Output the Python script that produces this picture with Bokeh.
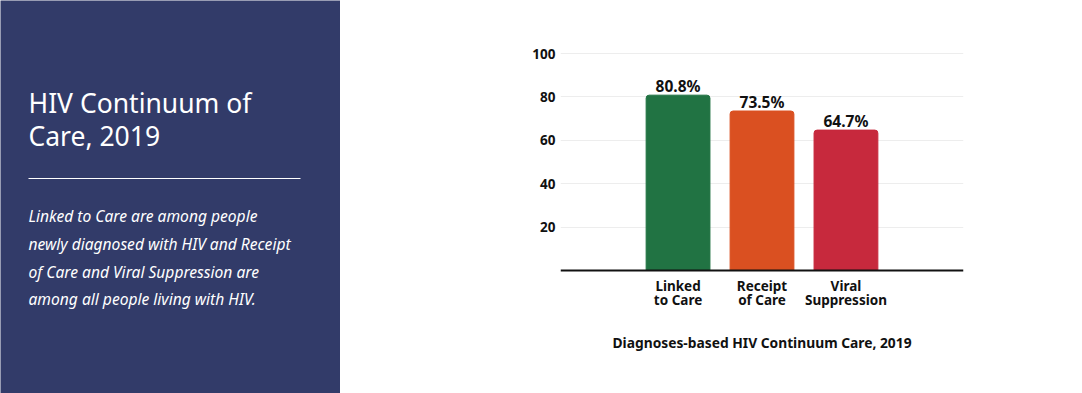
from bokeh.plotting import figure
from bokeh.layouts import row
from bokeh.models import Range1d, FactorRange, FixedTicker, ColumnDataSource
from bokeh.core.properties import value
from bokeh.embed import file_html
from bokeh.resources import INLINE

# ---- data ----
categories = ["Linked\nto Care", "Receipt\nof Care", "Viral\nSuppression"]
percentages = [80.8, 73.5, 64.7]
bar_colors = ["#217343", "#DA5021", "#C7293D"]
y_ticks = [20, 40, 60, 80, 100]
chart_caption = "Diagnoses-based HIV Continuum Care, 2019"
panel_title = ["HIV Continuum of", "Care, 2019"]
panel_text = [
    "Linked to Care are among people",
    "newly diagnosed with HIV and Receipt",
    "of Care and Viral Suppression are",
    "among all people living with HIV.",
]

FONT = "Noto Sans"
NAVY = "#323B69"
H = 393

# ---- left panel ----
left = figure(width=340, height=H, x_range=Range1d(0, 340), y_range=Range1d(H, 0),
              min_border=0, toolbar_location=None, output_backend="svg")
left.axis.visible = False
left.grid.visible = False
left.outline_line_color = None
left.background_fill_color = NAVY
left.border_fill_color = NAVY

left.text(x=[28, 28], y=[102.5, 135.5], text=panel_title, text_color="white",
          text_font=value(FONT), text_font_size="26.5px", text_baseline="middle")
left.segment(x0=[28], y0=[178], x1=[300], y1=[178], line_color="white", line_width=1)
left.text(x=[28] * 4, y=[215, 243, 271, 298.5], text=panel_text, text_color="white",
          text_font=value(FONT), text_font_style="italic", text_font_size="15.6px",
          text_baseline="middle")

# ---- chart ----
frame_top, frame_zero = 53, 270
px_per_unit = (frame_zero - frame_top) / 100
y_lo = -(H - frame_zero) / px_per_unit
y_hi = 100 + frame_top / px_per_unit

src = ColumnDataSource(dict(cat=categories, val=percentages, color=bar_colors,
                            label=[f"{v}%" for v in percentages]))
p = figure(width=742, height=H, x_range=FactorRange(*categories, range_padding=0.6),
           y_range=Range1d(y_lo, y_hi), min_border_left=220, min_border_right=119,
           min_border_top=0, min_border_bottom=0,
           toolbar_location=None, output_backend="svg")
p.outline_line_color = None
p.background_fill_color = "white"
p.border_fill_color = "white"
p.xgrid.grid_line_color = None
p.ygrid.grid_line_color = "#ededed"
p.ygrid.ticker = FixedTicker(ticks=y_ticks)

p.vbar(x="cat", top="val", bottom=0, width=0.76, color="color", source=src,
       border_radius=(3, 3, 0, 0))
p.text(x="cat", y="val", text="label", source=src, y_offset=-9,
       text_align="center", text_baseline="middle", text_color="#111111",
       text_font=value(FONT), text_font_style="bold", text_font_size="15.5px")

p.yaxis.ticker = FixedTicker(ticks=y_ticks)
p.yaxis.axis_line_color = None
p.yaxis.major_tick_line_color = None
p.yaxis.major_tick_out = 0
p.yaxis.major_tick_in = 0
p.yaxis.minor_tick_line_color = None
p.yaxis.major_label_standoff = 5
p.yaxis.major_label_text_font = FONT
p.yaxis.major_label_text_font_style = "bold"
p.yaxis.major_label_text_font_size = "13.5px"
p.yaxis.major_label_text_color = "#111111"

p.xaxis.fixed_location = 0
p.xaxis.axis_line_color = "#111111"
p.xaxis.axis_line_width = 2
p.xaxis.major_tick_line_color = None
p.xaxis.major_tick_out = 0
p.xaxis.major_tick_in = 0
p.xaxis.major_label_standoff = 6
p.xaxis.major_label_text_font = FONT
p.xaxis.major_label_text_font_style = "bold"
p.xaxis.major_label_text_font_size = "13.5px"
p.xaxis.major_label_text_line_height = 0.78
p.xaxis.major_label_text_color = "#111111"
p.xaxis.axis_label = chart_caption
p.xaxis.axis_label_standoff = 21
p.xaxis.axis_label_text_font = FONT
p.xaxis.axis_label_text_font_style = "bold"
p.xaxis.axis_label_text_font_size = "13.8px"
p.xaxis.axis_label_text_color = "#111111"

layout = row(left, p)
open("out.html", "w").write(file_html(layout, INLINE))
